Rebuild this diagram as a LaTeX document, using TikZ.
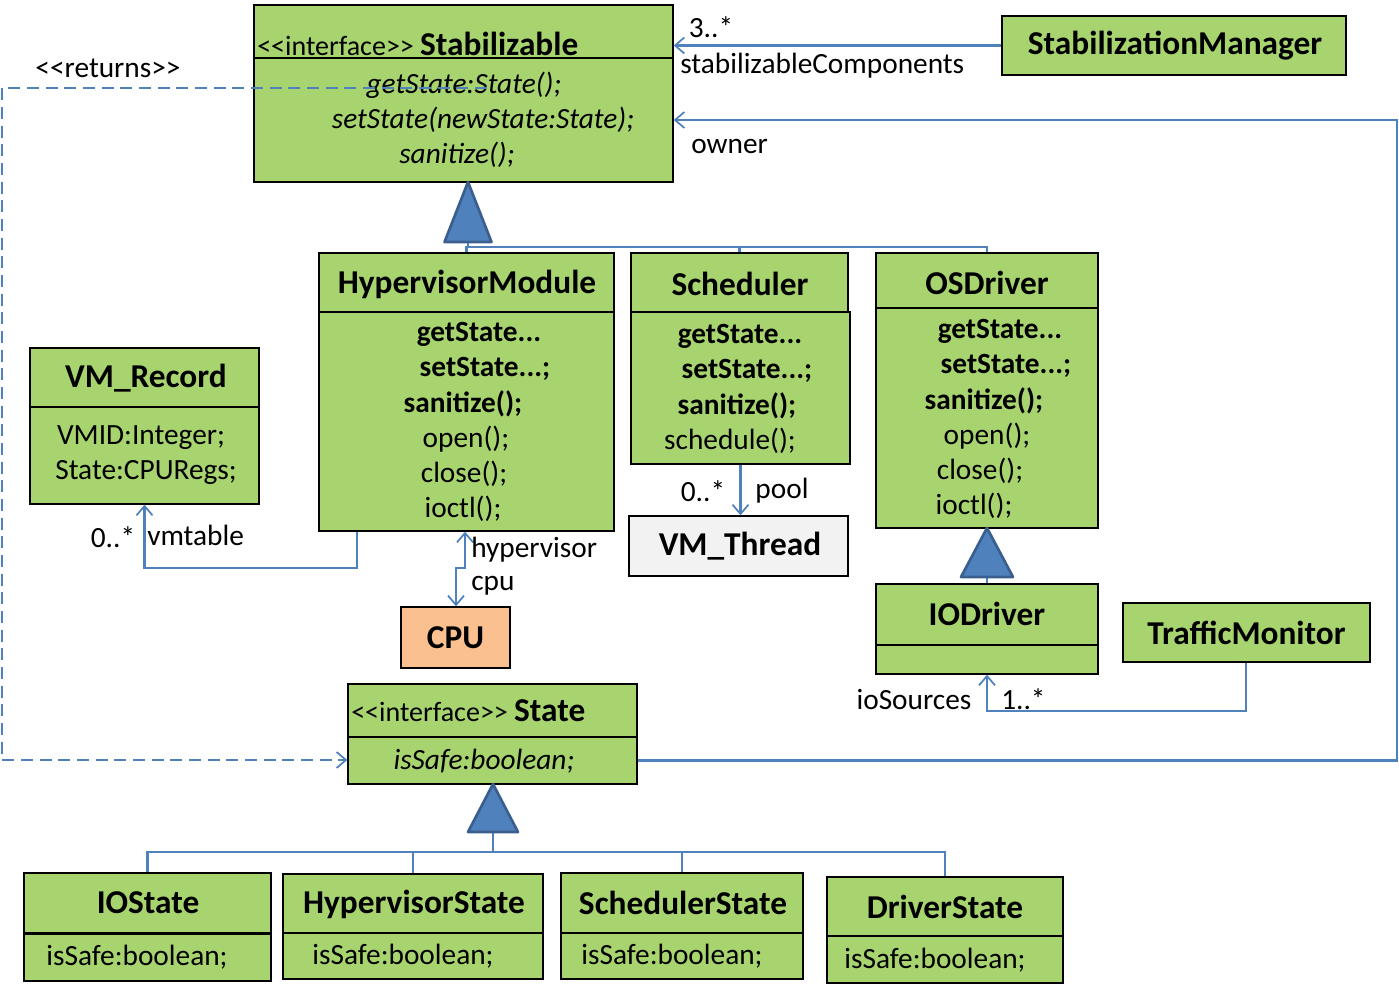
\documentclass[tikz,border=0pt]{standalone}
\usepackage{fontspec}
\setmainfont{Carlito}
\usetikzlibrary{arrows.meta,fit,calc}
\definecolor{boxgreen}{HTML}{A8D46F}
\definecolor{lineblue}{HTML}{4F81BD}
\definecolor{tridark}{HTML}{3A5F8F}
\definecolor{cpuorange}{HTML}{FAC090}
\definecolor{threadgrey}{HTML}{F2F2F2}
\newcommand\ltlt{<\kern0pt<}
\newcommand\gtgt{>\kern0pt>}
\begin{document}
\begin{tikzpicture}[x=0.75pt,y=-0.75pt,
  cbox/.style={draw=black, line width=1pt, fill=boxgreen, inner sep=0pt},
  ttl/.style={font=\fontsize{25}{29}\selectfont\bfseries, inner sep=0pt},
  txt/.style={font=\fontsize{22}{26}\selectfont, inner sep=0pt},
  btxt/.style={font=\fontsize{22}{26}\selectfont\bfseries, inner sep=0pt},
  itxt/.style={font=\fontsize{22}{26}\selectfont\itshape, inner sep=0pt},
  lbl/.style={font=\fontsize{22}{26}\selectfont, inner sep=0pt},
  conn/.style={draw=lineblue, line width=1.6pt},
  openarrow/.style={-{Straight Barb[length=7pt,width=12pt,line width=1.3pt]}},
  twoarrow/.style={{Straight Barb[length=7pt,width=12pt,line width=1.3pt]}-{Straight Barb[length=7pt,width=12pt,line width=1.3pt]}},
  retdash/.style={dash pattern=on 9pt off 5pt},
  tri/.style={draw=tridark, fill=lineblue, line width=2pt, line join=round}
]
\useasboundingbox (0,0) rectangle (1399,994);

% ---------- coordinates ----------
\coordinate (bar1) at (0,247);
\coordinate (bar2) at (0,852);
\coordinate (ownerCorner) at (1397,120);
\coordinate (retStart) at (487,88);
\coordinate (retA) at (2,88);
\coordinate (retB) at (2,760);
\coordinate (vmr1) at (357,568);
\coordinate (hc1) at (465,568);
\coordinate (hc2) at (456,568);
\coordinate (tm1) at (1246,711);
\coordinate (t1a) at (468,182);
\coordinate (t1b) at (468,242);
\coordinate (t2a) at (987,528);
\coordinate (t2b) at (987,577);
\coordinate (t3a) at (493,784);
\coordinate (t3b) at (493,832);

% ---------- Stabilizable ----------
\node[cbox, fit={(254,5) (673,58)}] (stabH) {};
\node[cbox, fit={(254,58) (673,182)}] (stabB) {};
\node[anchor=west, inner sep=0pt] (stabT) at (257,44) {\fontsize{21}{25}\selectfont\ltlt interface\gtgt\ {\fontsize{25}{29}\selectfont\bfseries Stabilizable}};
\node[itxt] (stabM1) at (464,85) {getState:State();};
\node[itxt] (stabM2) at (483,120) {setState(newState:State);};
\node[itxt] (stabM3) at (457,155) {sanitize();};

% ---------- StabilizationManager ----------
\node[cbox, fit={(1002,16) (1346,75)}] (mgr) {};
\node[ttl] (mgrT) at (1175,46) {StabilizationManager};

% ---------- HypervisorModule ----------
\node[cbox, fit={(319,253) (614,312)}] (hmH) {};
\node[cbox, fit={(319,312) (614,531)}] (hmB) {};
\node[ttl] (hmT) at (467,284) {HypervisorModule};
\node[btxt] (hm1) at (479,334) {getState...};
\node[btxt] (hm2) at (485,369) {setState...;};
\node[btxt] (hm3) at (463,404) {sanitize();};
\node[txt] (hm4) at (466,439) {open();};
\node[txt] (hm5) at (464,474) {close();};
\node[txt] (hm6) at (463,509) {ioctl();};

% ---------- Scheduler ----------
\node[cbox, fit={(631,253) (848,312)}] (schH) {};
\node[cbox, fit={(631,312) (850,464)}] (schB) {};
\node[ttl] (schT) at (740,284) {Scheduler};
\node[btxt] (sch1) at (740,336) {getState...};
\node[btxt] (sch2) at (747,371) {setState...;};
\node[btxt] (sch3) at (737,406) {sanitize();};
\node[txt] (sch4) at (730,441) {schedule();};

% ---------- OSDriver ----------
\node[cbox, fit={(876,253) (1098,308)}] (osH) {};
\node[cbox, fit={(876,308) (1098,528)}] (osB) {};
\node[ttl] (osT) at (987,283) {OSDriver};
\node[btxt] (os1) at (1000,331) {getState...};
\node[btxt] (os2) at (1006,366) {setState...;};
\node[btxt] (os3) at (984,401) {sanitize();};
\node[txt] (os4) at (987,436) {open();};
\node[txt] (os5) at (980,471) {close();};
\node[txt] (os6) at (974,506) {ioctl();};

% ---------- VM_Thread ----------
\node[cbox, fill=threadgrey, fit={(629,516) (848,576)}] (vmt) {};
\node[ttl] (vmtT) at (740,546) {VM\_Thread};

% ---------- VM_Record ----------
\node[cbox, fit={(30,348) (259,407)}] (vmrH) {};
\node[cbox, fit={(30,407) (259,504)}] (vmrB) {};
\node[ttl] (vmrT) at (146,378) {VM\_Record};
\node[txt] (vmr1t) at (141,438) {VMID:Integer;};
\node[txt] (vmr2t) at (146,473) {State:CPURegs;};

% ---------- CPU ----------
\node[cbox, fill=cpuorange, fit={(401,607) (510,668)}] (cpu) {};
\node[ttl] (cpuT) at (cpu.center) {CPU};

% ---------- IODriver ----------
\node[cbox, fit={(876,584) (1098,645)}] (iodH) {};
\node[cbox, fit={(876,645) (1098,674)}] (iodB) {};
\node[ttl] (iodT) at (987,614) {IODriver};

% ---------- TrafficMonitor ----------
\node[cbox, fit={(1123,603) (1370,662)}] (tm) {};
\node[ttl] (tmT) at (tm.center) {TrafficMonitor};

% ---------- State ----------
\node[cbox, fit={(348,684) (637,737)}] (stH) {};
\node[cbox, fit={(348,737) (637,784)}] (stB) {};
\node[anchor=west, inner sep=0pt] (stT) at (351,711) {\fontsize{21}{25}\selectfont\ltlt interface\gtgt\ {\fontsize{25}{29}\selectfont\bfseries State}};
\node[itxt] (st1) at (484,761) {isSafe:boolean;};

% ---------- State subclasses ----------
\node[cbox, fit={(24,873) (271,933)}] (iosH) {};
\node[cbox, fit={(24,933) (271,981)}] (iosB) {};
\draw[line width=2pt] (iosH.south west) -- (iosH.south east);
\node[ttl] (iosT) at (148,903) {IOState};
\node[txt] (ios1) at (137,957) {isSafe:boolean;};

\node[cbox, fit={(283,874) (543,933)}] (hsH) {};
\node[cbox, fit={(283,933) (543,979)}] (hsB) {};
\node[ttl] (hsT) at (414,904) {HypervisorState};
\node[txt] (hs1) at (403,956) {isSafe:boolean;};

\node[cbox, fit={(561,873) (803,933)}] (ssH) {};
\node[cbox, fit={(561,933) (803,979)}] (ssB) {};
\node[ttl] (ssT) at (683,903) {SchedulerState};
\node[txt] (ss1) at (672,956) {isSafe:boolean;};

\node[cbox, fit={(827,877) (1063,936)}] (dsH) {};
\node[cbox, fit={(827,936) (1063,983)}] (dsB) {};
\node[ttl] (dsT) at (945,907) {DriverState};
\node[txt] (ds1) at (935,960) {isSafe:boolean;};

% ---------- connectors ----------
% manager -> stabilizable
\draw[conn, openarrow] (mgr.west) -- (stabH.east |- mgr.west);
\node[lbl] (l3) at (711,27) {3..*};
\node[lbl, anchor=west] (lsc) at (680,66) {stabilizableComponents};

% owner
\draw[conn, openarrow] (stB.east) -| (ownerCorner) -- (stabB.east |- ownerCorner);
\node[lbl, anchor=west] (lowner) at (691,146) {owner};

% returns
\draw[conn, retdash, openarrow] (retStart) -- (retA) -- (retB) -- (stB.west |- retB);
\node[lbl] (lret) at (108,68) {\ltlt returns\gtgt};

% inheritance to Stabilizable
\draw[conn] (t1b) -- (t1b |- bar1);
\draw[conn] (hmH.north) |- (osH.north |- bar1) -- (osH.north);
\draw[conn] (schH.north) -- (schH.north |- bar1);
\draw[tri] (t1a) -- ($(t1b)+(-23.5,0)$) -- ($(t1b)+(23.5,0)$) -- cycle;

% scheduler -> VM_Thread
\draw[conn, openarrow] (schB.south) -- (schB.south |- vmt.north);
\node[lbl] (lpool0) at (703,491) {0..*};
\node[lbl] (lpool) at (782,491) {pool};

% hypervisor -> VM_Record
\draw[conn, openarrow] (hmB.south -| vmr1) -- (vmr1) -| (vmrB.south);
\node[lbl] (lvm0) at (113,537) {0..*};
\node[lbl, anchor=west] (lvm) at (147,535) {vmtable};

% hypervisor <-> CPU
\draw[conn, twoarrow] (hmB.south -| hc1) -- (hc1) -- (hc2) -- (cpu.north -| hc2);
\node[lbl, anchor=west] (lhyp) at (471,550) {hypervisor};
\node[lbl, anchor=west] (lcpu) at (471,586) {cpu};

% OSDriver <- IODriver
\draw[conn] (t2b) -- (iodH.north);
\draw[tri] (t2a) -- ($(t2b)+(-26,0)$) -- ($(t2b)+(26,0)$) -- cycle;

% TrafficMonitor -> IODriver
\draw[conn, openarrow] (tm.south -| tm1) -- (tm1) -| (iodB.south);
\node[lbl] (lios) at (914,700) {ioSources};
\node[lbl, anchor=west] (l1s) at (1001,699) {1..*};

% inheritance to State
\draw[conn] (t3b) -- (t3b |- bar2);
\draw[conn] (iosH.north) |- (dsH.north |- bar2) -- (dsH.north);
\draw[conn] (hsH.north) -- (hsH.north |- bar2);
\draw[conn] (ssH.north) -- (ssH.north |- bar2);
\draw[tri] (t3a) -- ($(t3b)+(-25,0)$) -- ($(t3b)+(25,0)$) -- cycle;
\end{tikzpicture}
\end{document}
